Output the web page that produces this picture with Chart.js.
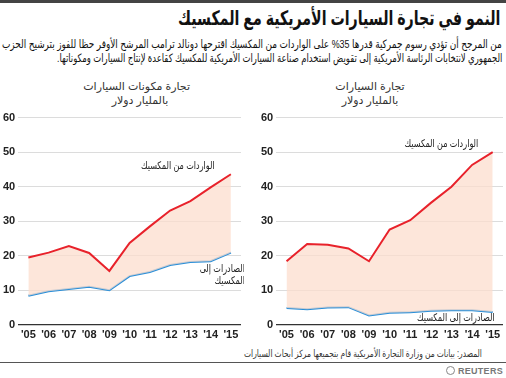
<!DOCTYPE html>
<html>
<head>
<meta charset="utf-8">
<script src="https://cdn.jsdelivr.net/npm/chart.js@4.4.0/dist/chart.umd.min.js"></script>
<style>
  body { margin: 0; background: #fff; }
  #wrap { position: relative; width: 506px; height: 378px; overflow: hidden; font-family: "Liberation Sans", "DejaVu Sans", Arial, sans-serif; color: #222; }
  .t { position: absolute; direction: rtl; white-space: nowrap; transform-origin: right top; }
  #topline { position: absolute; left: 0; top: 0; width: 506px; height: 3px; background: #444; }
  #title { right: 6px; top: 6px; font-size: 20px; font-weight: bold; color: #111; }
  .sub { right: 4px; font-size: 11.5px; line-height: 13px; color: #111; }
  .ptitle { font-size: 11px; line-height: 14px; text-align: center; color: #333; }
  #src { right: 24px; top: 348px; font-size: 10px; color: #333; }
  #botline { position: absolute; left: 0; top: 362px; width: 506px; height: 1px; background: #555; }
  #logo { position: absolute; right: 3px; top: 366px; font-size: 9px; font-weight: bold; color: #777; letter-spacing: 0.3px; }
  canvas { position: absolute; }
</style>
</head>
<body>
<div id="wrap">
  <div id="topline"></div>
  <div class="t" id="title">النمو في تجارة السيارات الأمريكية مع المكسيك</div>
  <div class="t sub" id="sub1" style="top:38px;">من المرجح أن تؤدي رسوم جمركية  قدرها 35% على الواردات من المكسيك اقترحها دونالد ترامب المرشح الأوفر حظا للفوز بترشيح الحزب</div>
  <div class="t sub" id="sub2" style="top:52px;">الجمهوري لانتخابات الرئاسة الأمريكية إلى تقويض استخدام صناعة السيارات الأمريكية للمكسيك كقاعدة لإنتاج السيارات ومكوناتها.</div>
  <div class="t ptitle" style="left:90px; width:100px; top:79px;">تجارة مكونات السيارات<br>بالمليار دولار</div>
  <div class="t ptitle" style="left:320px; width:100px; top:79px;">تجارة السيارات<br>بالمليار دولار</div>
  <canvas id="c1" width="244" height="238" style="left:0; top:108px;"></canvas>
  <canvas id="c2" width="248" height="238" style="left:258px; top:108px;"></canvas>
  <div class="t" id="src">المصدر: بيانات من وزارة التجارة الأمريكية قام بتجميعها مركز أبحاث السيارات</div>
  <div id="botline"></div>
  <div id="logo"><span style="display:inline-block;width:9px;height:9px;border:1.5px solid #888;border-radius:50%;box-sizing:border-box;vertical-align:-1px;margin-right:3px;"></span>REUTERS</div>
</div>
<script>
var years = ["'05", "'06", "'07", "'08", "'09", "'10", "'11", "'12", "'13", "'14", "'15"];
var yTicks = [0, 10, 20, 30, 40, 50, 60];

// auto parts trade (billion $)
var partsImports = [19.5, 20.9, 22.8, 20.8, 15.6, 23.7, 28.5, 33.1, 35.8, 39.8, 43.6];
var partsExports = [8.4, 9.7, 10.4, 11.0, 10.0, 14.1, 15.3, 17.3, 18.2, 18.4, 20.9];

// vehicles trade (billion $)
var carImports = [18.4, 23.4, 23.2, 22.1, 18.4, 27.6, 30.3, 35.3, 40.0, 46.3, 50.0];
var carExports = [4.9, 4.5, 5.0, 5.1, 2.7, 3.5, 3.6, 4.1, 4.2, 4.2, 3.7];

var RED = '#e8222b';
var BLUE = '#2b8fd8';
var FILL = 'rgba(252,222,205,0.75)';

// squeeze a text block horizontally to a given width
function fitWidth(id, w) {
  var el = document.getElementById(id);
  var cur = el.offsetWidth;
  if (cur > 0) el.style.transform = 'scaleX(' + (w / cur) + ')';
}
fitWidth('title', 322);
fitWidth('sub1', 500);
fitWidth('sub2', 445);
fitWidth('src', 238);

// text labels drawn at data positions
var textLabels = {
  id: 'textLabels',
  afterDatasetsDraw: function(chart, args, opts) {
    var ctx = chart.ctx;
    var xs = chart.scales.x, ys = chart.scales.y;
    ctx.save();
    ctx.font = '10.5px "Liberation Sans", "DejaVu Sans", Arial, sans-serif';
    ctx.fillStyle = '#222';
    ctx.textAlign = 'right';
    ctx.textBaseline = 'middle';
    ctx.direction = 'rtl';
    (opts.items || []).forEach(function(it) {
      var px = xs.getPixelForValue(it.x) + (it.dx || 0);
      var py = ys.getPixelForValue(it.y);
      it.lines.forEach(function(line, i) {
        ctx.save();
        ctx.translate(px, py + i * 12);
        ctx.scale(0.77, 1);
        ctx.fillText(line, 0, 0);
        ctx.restore();
      });
    });
    ctx.restore();
  }
};

function makeChart(id, imports, exports, items) {
  return new Chart(document.getElementById(id), {
    type: 'line',
    data: {
      labels: years,
      datasets: [
        { label: 'imports', data: imports, borderColor: RED, borderWidth: 2, pointRadius: 0, tension: 0, fill: 1, backgroundColor: FILL },
        { label: 'exports', data: exports, borderColor: BLUE, borderWidth: 2, pointRadius: 0, tension: 0, fill: false }
      ]
    },
    options: {
      responsive: false,
      animation: false,
      layout: { padding: { top: 3, right: 3 } },
      plugins: {
        legend: { display: false },
        tooltip: { enabled: false },
        textLabels: { items: items }
      },
      scales: {
        x: {
          offset: true,
          grid: { display: false, drawTicks: false },
          border: { display: false },
          ticks: { color: '#222', font: { size: 11, weight: 'bold', family: 'Liberation Sans, Arial, sans-serif' }, padding: 4, maxRotation: 0, autoSkip: false }
        },
        y: {
          min: 0, max: 60,
          afterBuildTicks: function(axis) { axis.ticks = yTicks.map(function(v) { return { value: v }; }); },
          grid: {
            drawTicks: false,
            color: function(c) { return c.tick && c.tick.value === 0 ? '#333' : '#dcdcdc'; },
            lineWidth: function(c) { return c.tick && c.tick.value === 0 ? 1.2 : 1; }
          },
          border: { display: false },
          ticks: { color: '#222', font: { size: 11, weight: 'bold', family: 'Liberation Sans, Arial, sans-serif' }, padding: 3 }
        }
      }
    },
    plugins: [textLabels]
  });
}

makeChart('c1', partsImports, partsExports, [
  { x: 9.2, y: 46, lines: ['الواردات من المكسيك'] },
  { x: 10, dx: 14, y: 16.2, lines: ['الصادرات إلى', 'المكسيك'] }
]);
makeChart('c2', carImports, carExports, [
  { x: 9.3, y: 52.2, lines: ['الواردات من المكسيك'] },
  { x: 10, dx: 2, y: 2, lines: ['الصادرات إلى المكسيك'] }
]);
</script>
</body>
</html>
